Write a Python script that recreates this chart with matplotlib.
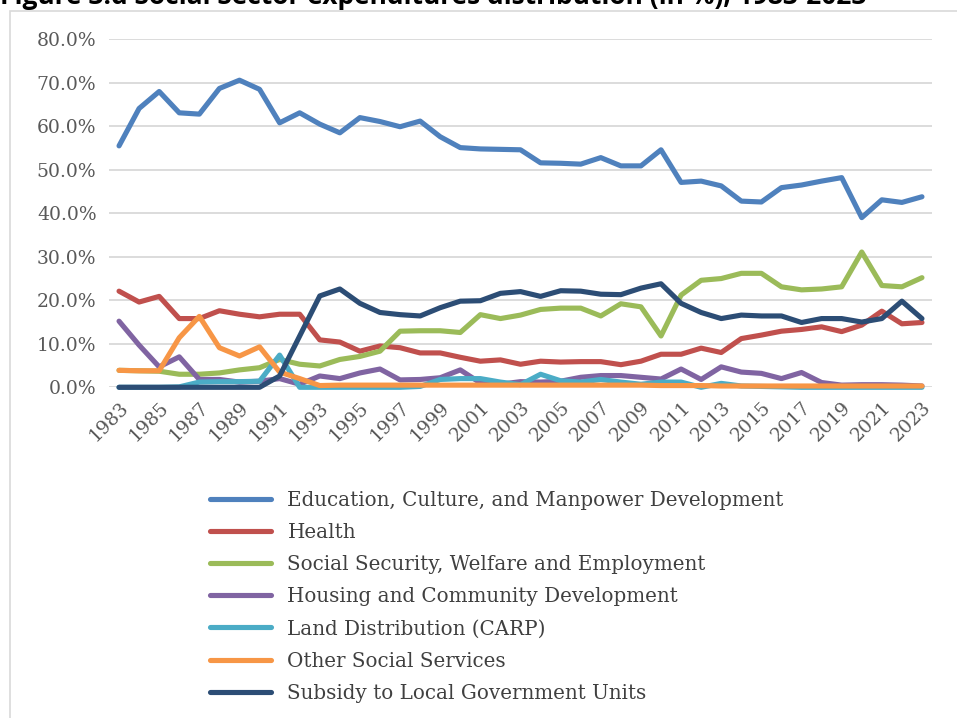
import matplotlib
matplotlib.use('Agg')
import matplotlib.pyplot as plt
from matplotlib.patches import Rectangle
from matplotlib.ticker import FuncFormatter

# --- Data (share of social sector expenditures, %)
years = list(range(1983, 2024))

education = [55.5, 64.1, 68.0, 63.1, 62.8, 68.7, 70.6, 68.5, 60.8, 63.1,
             60.5, 58.5, 62.0, 61.1, 59.9, 61.2, 57.6, 55.1, 54.8, 54.7,
             54.6, 51.6, 51.5, 51.3, 52.8, 50.9, 50.9, 54.6, 47.1, 47.4,
             46.3, 42.8, 42.6, 45.9, 46.5, 47.4, 48.2, 39.0, 43.1, 42.5, 43.8]
health = [22.1, 19.6, 20.9, 15.8, 15.8, 17.6, 16.8, 16.2, 16.8, 16.8,
          10.9, 10.4, 8.3, 9.5, 9.1, 7.9, 7.9, 6.9, 6.0, 6.3,
          5.3, 6.0, 5.8, 5.9, 5.9, 5.2, 6.0, 7.6, 7.6, 9.0,
          8.0, 11.2, 12.0, 12.9, 13.3, 13.9, 12.8, 14.3, 17.5, 14.6, 14.9]
social_security = [3.9, 3.8, 3.7, 3.0, 3.0, 3.3, 4.0, 4.5, 6.4, 5.3,
                   4.9, 6.4, 7.1, 8.3, 12.9, 13.0, 13.0, 12.6, 16.7, 15.8,
                   16.6, 17.9, 18.2, 18.2, 16.4, 19.2, 18.5, 11.8, 21.2, 24.6,
                   25.0, 26.2, 26.2, 23.1, 22.4, 22.6, 23.1, 31.1, 23.4, 23.1, 25.2]
housing = [15.2, 9.7, 4.7, 7.0, 1.8, 1.8, 1.2, 1.4, 2.0, 0.7,
           2.6, 2.0, 3.3, 4.2, 1.7, 1.8, 2.2, 4.0, 1.0, 0.7,
           1.3, 1.2, 1.4, 2.3, 2.7, 2.7, 2.3, 1.9, 4.2, 1.8,
           4.7, 3.5, 3.2, 2.0, 3.4, 1.1, 0.5, 0.6, 0.6, 0.5, 0.3]
land_carp = [0.0, 0.0, 0.0, 0.1, 1.2, 1.3, 1.3, 1.4, 7.4, 0.0,
             0.0, 0.0, 0.0, 0.0, 0.0, 0.2, 1.8, 2.0, 2.0, 1.2,
             0.6, 3.0, 1.5, 1.2, 1.8, 1.2, 0.7, 1.2, 1.2, 0.0,
             0.9, 0.3, 0.2, 0.1, 0.0, 0.0, 0.0, 0.0, 0.0, 0.0, 0.0]
other_social = [3.9, 3.8, 3.8, 11.4, 16.3, 9.1, 7.2, 9.3, 3.5, 2.0,
                0.4, 0.5, 0.5, 0.5, 0.5, 0.5, 0.5, 0.5, 0.5, 0.5,
                0.5, 0.5, 0.5, 0.5, 0.5, 0.5, 0.5, 0.4, 0.4, 0.4,
                0.3, 0.3, 0.3, 0.3, 0.3, 0.3, 0.3, 0.3, 0.3, 0.3, 0.3]
subsidy_lgu = [0.0, 0.0, 0.0, 0.0, 0.0, 0.0, 0.0, 0.0, 2.6, 11.8,
               21.0, 22.6, 19.3, 17.2, 16.7, 16.4, 18.3, 19.8, 19.9, 21.6,
               22.0, 20.9, 22.2, 22.1, 21.4, 21.3, 22.8, 23.8, 19.3, 17.2,
               15.8, 16.6, 16.4, 16.4, 14.9, 15.8, 15.8, 15.0, 15.8, 19.8, 15.8]

series = [
    ('Education, Culture, and Manpower Development', education, '#4F81BD'),
    ('Health', health, '#C0504D'),
    ('Social Security, Welfare and Employment', social_security, '#9BBB59'),
    ('Housing and Community Development', housing, '#8064A2'),
    ('Land Distribution (CARP)', land_carp, '#4BACC6'),
    ('Other Social Services', other_social, '#F79646'),
    ('Subsidy to Local Government Units', subsidy_lgu, '#2C4D75'),
]

title = 'Figure 3.d Social Sector expenditures distribution (in %), 1983-2023'

W, H = 957, 718
fig = plt.figure(figsize=(W / 100, H / 100), dpi=100)

# --- chart frame (Excel chart area border)
fig.patches.append(Rectangle((10 / W, -0.05), 1.1, 1 - 11 / H + 0.05,
                             transform=fig.transFigure, fill=False,
                             edgecolor='#D9D9D9', linewidth=1.2))

# --- title, cut off at the top of the image as in the source
fig.text(0.0, 1 - 4 / H, title, fontsize=19, fontweight='bold',
         family='Open Sans', color='black', va='baseline', ha='left')

left, right = 109 / W, 932 / W
bottom, top = 1 - 387.3 / H, 1 - 39.3 / H
ax = fig.add_axes([left, bottom, right - left, top - bottom])

for name, vals, color in series:
    ax.plot(years, [v / 100 for v in vals], color=color, linewidth=3.7,
            label=name, solid_capstyle='round', solid_joinstyle='round',
            clip_on=False)

ax.set_xlim(1982.5, 2023.5)
ax.set_ylim(0, 0.8)
ax.set_yticks([i / 10 for i in range(9)])
ax.yaxis.set_major_formatter(FuncFormatter(lambda v, _: f'{v * 100:.1f}%'))
ax.set_xticks(years[::2])
ax.set_xticklabels([str(y) for y in years[::2]], rotation=45, ha='right',
                   rotation_mode='anchor')

ax.grid(axis='y', color='#D9D9D9', linewidth=1.3)
ax.set_axisbelow(True)
for s in ax.spines.values():
    s.set_visible(False)
ax.tick_params(length=0, colors='#595959', labelsize=13.5)
ax.tick_params(axis='y', pad=9)
ax.tick_params(axis='x', pad=8)
for lbl in ax.get_xticklabels() + ax.get_yticklabels():
    lbl.set_family('DejaVu Serif')

handles, labels = ax.get_legend_handles_labels()
leg = fig.legend(handles, labels, loc='upper left',
                 bbox_to_anchor=(210 / W, 1 - 491 / H), frameon=False,
                 prop={'family': 'DejaVu Serif', 'size': 14.3},
                 handlelength=3.05, handletextpad=0.85, labelspacing=0.66,
                 borderpad=0, borderaxespad=0)
for t in leg.get_texts():
    t.set_color('#404040')

fig.savefig('out.png', dpi=100)
